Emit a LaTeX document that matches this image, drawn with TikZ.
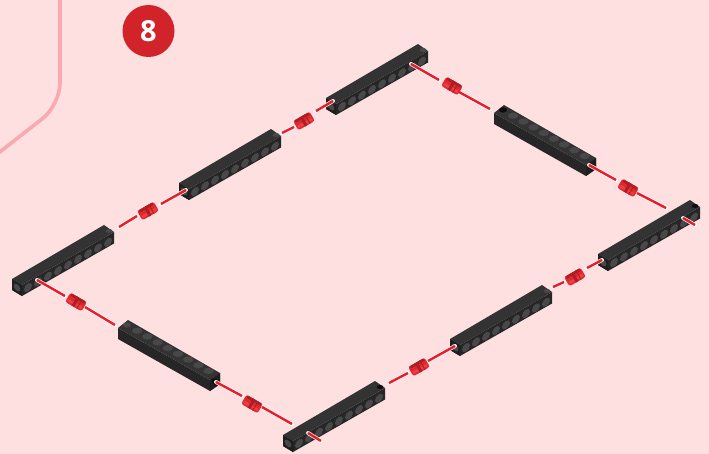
\documentclass[tikz,border=0pt]{standalone}
\usepackage{fontspec}
\setmainfont{Open Sans}
\definecolor{bgc}{HTML}{FEE0E0}
\definecolor{curvec}{HTML}{F9A9AF}
\definecolor{badge}{HTML}{D2232A}
\definecolor{topc}{HTML}{333333}
\definecolor{sidec}{HTML}{262626}
\definecolor{endc}{HTML}{1E1E1E}
\definecolor{holec}{HTML}{484848}
\definecolor{darkh}{HTML}{0E0E0E}
\definecolor{wire}{HTML}{EA1C2A}
\definecolor{cone}{HTML}{DE2A2F}
\definecolor{cdark}{HTML}{B01E25}
\definecolor{clight}{HTML}{EE4044}
\tikzset{
  topf/.style={fill=topc},
  sidef/.style={fill=sidec},
  endf/.style={fill=endc},
  holef/.style={fill=holec},
  wireline/.style={draw=wire,line width=2.4pt},
  halo/.style={draw=white,line width=4pt,line cap=round,opacity=.85},
}
% beam rising to the right; #1,#2 = offset from the top beam; #3 = colour of far top hole
\newcommand{\beamA}[3]{%
  \begin{scope}[shift={(#1,#2)}]
    \fill[sidef] (326,98)--(336,104)--(428,51)--(428,62.5)--(336,115)--(326,109)--cycle;
    \fill[topf] (326,98)--(418,44)--(428,51)--(336,104)--cycle;
    \fill[endf] (326,98)--(336,104)--(336,115)--(326,109)--cycle;
    \foreach \k in {0,...,8}{
      \fill[holef,shift={(342+10*\k,106.5-5.65*\k)},cm={1,.57,0,1,(0,0)}] (0,0) circle (4);
    }
    \fill[holef,shift={(331,106.5)},cm={1,-.57,0,1,(0,0)}] (0,0) circle (3.4);
    \fill[#3,shift={(423,50)},cm={1,0,0,.6,(0,0)}] (0,0) circle (3.4);
  \end{scope}}
% beam falling to the right
\newcommand{\beamB}[3]{%
  \begin{scope}[shift={(#1,#2)}]
    \fill[sidef] (494,113)--(586,165)--(596,158)--(596,169)--(586,176)--(494,124)--cycle;
    \fill[topf] (494,113)--(504,105)--(596,158)--(586,165)--cycle;
    \fill[endf] (586,165)--(596,158)--(596,169)--(586,176)--cycle;
    \foreach \k in {1,...,8}{
      \fill[holef] (503+10.2*\k,110+5.75*\k) ellipse (5.2 and 3.1);
    }
    \fill[#3] (503,110) ellipse (4 and 2.7);
    \fill[darkh,shift={(591,167)},cm={1,-.6,0,1,(0,0)}] (0,0) circle (3.2);
  \end{scope}}
% coupling; #1 = name, #2 = centre, #3 = angle
\newcommand{\coupling}[3]{%
  \coordinate (#1) at #2;
  \begin{scope}[shift={(#1)},rotate=#3]
    \fill[cone,rounded corners=2.4pt] (-9.5,-5.3) rectangle (9.5,5.3);
    \fill[clight] (-8,1) rectangle (8,3.6);
    \fill[cdark] (-8,-5.3) rectangle (8,-2.6);
    \fill[cdark] (-2,-5.3) rectangle (1,5.3);
    \fill[cdark] (3.5,-5.3) rectangle (4.5,5.3);
  \end{scope}}
\newcommand{\wire}[2]{%
  \draw[halo] #1 -- #2;
  \draw[wireline] #1 -- #2;}
\begin{document}
\begin{tikzpicture}[x=1pt,y=-1pt]
  \useasboundingbox (0,0) rectangle (709,454);
  \fill[bgc] (0,0) rectangle (709,454);
  \draw[curvec,line width=3.6pt,rounded corners=22pt] (60,-5) -- (60,105) -- (-8,158);
  \node[circle,fill=badge,minimum size=52pt,inner sep=0pt,text=white,font=\fontsize{29}{29}\selectfont\bfseries] (badge8) at (148.5,31) {8};

  \beamA{0}{0}{holec}
  \beamA{-147}{85}{holec}
  \beamA{-314}{181}{holec}
  \beamA{-43}{337}{darkh}
  \beamA{124}{241}{holec}
  \beamA{272}{156}{darkh}
  \beamB{0}{0}{darkh}
  \beamB{-376}{215}{holec}

  % wires and couplings, clockwise from the top beam
  \wire{(411,64)}{(439,80)}
  \wire{(459,92)}{(490,109)}
  \coupling{cA}{(452,86)}{-30}

  \wire{(589,165)}{(616,180)}
  \wire{(637,193)}{(666,208)}
  \coupling{cB}{(628,188)}{-30}
  \wire{(683,218)}{(695,225)}

  \wire{(602,260)}{(587,268)}
  \coupling{cC}{(575,277)}{30}
  \wire{(564,282)}{(553,287)}

  \wire{(455,346)}{(428,361)}
  \coupling{cD}{(419,367)}{30}
  \wire{(408,373)}{(389,383)}

  \wire{(308,433)}{(321,441)}
  \wire{(216,382)}{(242,396)}
  \wire{(262,407)}{(292,424)}
  \coupling{cE}{(252,404)}{-30}

  \wire{(37,280)}{(65,296)}
  \wire{(85,307)}{(115,325)}
  \coupling{cF}{(76,302)}{-30}

  \wire{(119,227)}{(137,216)}
  \wire{(161,204)}{(186,190)}
  \coupling{cG}{(148,211)}{30}

  \wire{(282,133)}{(294,127)}
  \wire{(316,111)}{(333,101)}
  \coupling{cH}{(304,121)}{30}
\end{tikzpicture}
\end{document}
